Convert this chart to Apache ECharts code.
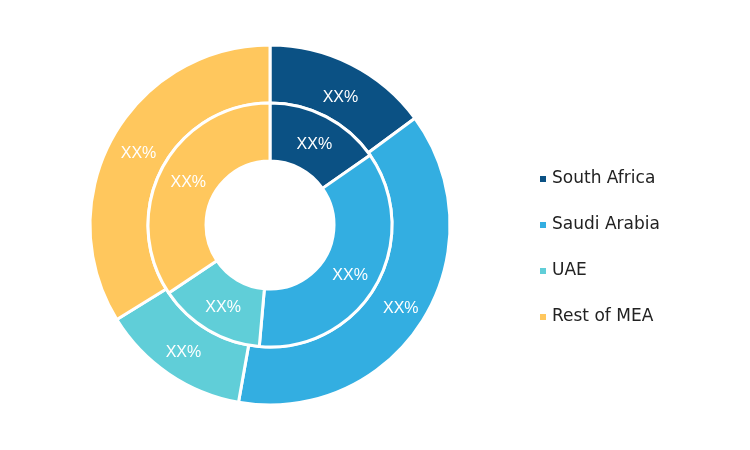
<!DOCTYPE html>
<html>
<head>
<meta charset="utf-8">
<script src="https://cdn.jsdelivr.net/npm/echarts@6/dist/echarts.min.js"></script>
<style>
  html, body { margin: 0; padding: 0; background: #fff; }
  #chart { width: 750px; height: 450px; }
</style>
</head>
<body>
<div id="chart"></div>
<script>
// Regional shares (percent), MEA market
const regions = ['South Africa', 'Saudi Arabia', 'UAE', 'Rest of MEA'];
const outerShare = [14.9, 37.9, 13.4, 33.8];
const innerShare = [15.3, 36.1, 14.2, 34.4];
const sliceLabel = 'XX%';
const palette = ['#0B5184', '#33AEE1', '#60CED8', '#FFC75D'];

// small label nudges so the text sits comfortably inside each sector
const outerNudge = [[1, 10], [0, 2], [0, 0], [3, 4]];
const innerNudge = [[0, 5], [-3, 3], [2, 0], [3, 3]];

const ringLabel = {
  show: true,
  position: 'inside',
  formatter: () => sliceLabel,
  color: '#fff',
  fontFamily: 'Liberation Sans',
  fontSize: 16,
  fontWeight: 'normal'
};

const toData = (vals, nudge) => regions.map((name, i) => ({
  name,
  value: vals[i],
  label: { offset: nudge[i] }
}));

const chart = echarts.init(document.getElementById('chart'));
chart.setOption({
  animation: false,
  color: palette,
  legend: {
    orient: 'vertical',
    left: 533,
    top: 164,
    icon: 'rect',
    itemWidth: 8,
    itemHeight: 8,
    itemGap: 26,
    data: regions,
    textStyle: {
      fontFamily: 'DejaVu Sans',
      fontSize: 17,
      lineHeight: 20,
      color: '#222'
    }
  },
  series: [
    {
      name: 'outer',
      type: 'pie',
      center: [270, 225],
      radius: [122, 180],
      startAngle: 90,
      clockwise: true,
      label: ringLabel,
      labelLine: { show: false },
      itemStyle: { borderColor: '#fff', borderWidth: 3 },
      emphasis: { disabled: true },
      data: toData(outerShare, outerNudge)
    },
    {
      name: 'inner',
      type: 'pie',
      center: [270, 225],
      radius: [64, 122],
      startAngle: 90,
      clockwise: true,
      label: ringLabel,
      labelLine: { show: false },
      itemStyle: { borderColor: '#fff', borderWidth: 3 },
      emphasis: { disabled: true },
      data: toData(innerShare, innerNudge)
    }
  ]
});
</script>
</body>
</html>
